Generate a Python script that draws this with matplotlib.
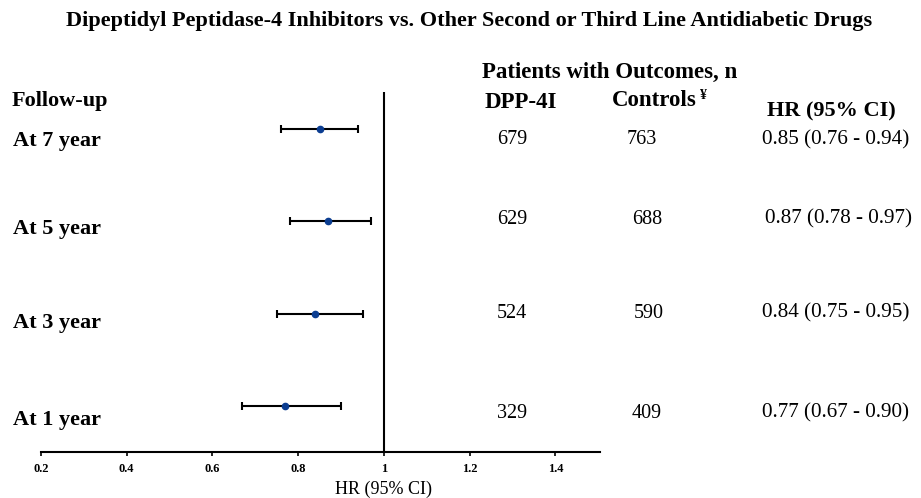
import matplotlib
matplotlib.use("Agg")
import matplotlib.pyplot as plt
import matplotlib.transforms as mtransforms

plt.rcParams['font.family'] = ['Liberation Serif', 'DejaVu Serif']

labels = ["At 1 year", "At 3 year", "At 5 year", "At 7 year"]
hr = [0.77, 0.84, 0.87, 0.85]
lo = [0.67, 0.75, 0.78, 0.76]
hi = [0.90, 0.95, 0.97, 0.94]
dpp = [329, 524, 629, 679]
ctrl = [409, 590, 688, 763]
hr_text = ["0.77 (0.67 - 0.90)", "0.84 (0.75 - 0.95)", "0.87 (0.78 - 0.97)", "0.85 (0.76 - 0.94)"]
xticks = [0.2, 0.4, 0.6, 0.8, 1, 1.2, 1.4]

W, H = 921, 498
fig = plt.figure(figsize=(W/100, H/100), dpi=100)

def fx(px):
    return px / W

def fy(py):
    return 1 - py / H

ax = fig.add_axes([fx(41), fy(452), fx(600) - fx(41), fy(92) - fy(452)])
ys = list(range(len(labels)))
err = [[h - l for h, l in zip(hr, lo)], [u - h for h, u in zip(hr, hi)]]
ax.errorbar(hr, ys, xerr=err, fmt='o', color='black', ecolor='black',
            elinewidth=1.5, capsize=3, capthick=1.5,
            markerfacecolor='#0b3d91', markeredgecolor='#0b3d91', markersize=4.5)
ax.axvline(1, color='black', lw=1.5)
ax.set_xlim(0.2, 1.504)
ax.set_ylim(-0.5, 3.4)
for s in ['top', 'right', 'left']:
    ax.spines[s].set_visible(False)
ax.spines['bottom'].set_linewidth(1.5)
ax.set_yticks([])
ax.set_xticks(xticks)
ax.set_xticklabels([f"{t:g}" for t in xticks], fontsize=9, fontweight='bold')
ax.tick_params(axis='x', length=3, width=1.2, direction='out', pad=5)
ax.text(1.0, fy(489), "HR (95% CI)",
        transform=mtransforms.blended_transform_factory(ax.transData, fig.transFigure),
        ha='center', va='center', fontsize=13)

fig.text(fx(469), fy(21), "Dipeptidyl Peptidase-4 Inhibitors vs. Other Second or Third Line Antidiabetic Drugs",
         ha='center', va='center', fontsize=16, fontweight='bold')
fig.text(fx(482), fy(72), "Patients with Outcomes, n", ha='left', va='center', fontsize=16.5, fontweight='bold')
fig.text(fx(12), fy(101), "Follow-up", ha='left', va='center', fontsize=16, fontweight='bold')
fig.text(fx(485), fy(103), "DPP-4I", ha='left', va='center', fontsize=16.5, fontweight='bold')
fig.text(fx(612), fy(101), "Controls", ha='left', va='center', fontsize=16.5, fontweight='bold')
fig.text(fx(700), fy(95), "¥", ha='left', va='center', fontsize=10, fontweight='bold')
fig.text(fx(767), fy(111), "HR (95% CI)", ha='left', va='center', fontsize=16, fontweight='bold')

label_py = [420, 323, 229, 141]
num_py = [413, 313, 219, 140]
dpp_px = [497, 497, 497, 497]
ctrl_px = [632, 634, 632, 627]
hr_px = [762, 762, 765, 762]
for i in range(len(labels)):
    fig.text(fx(13), fy(label_py[i]), labels[i], ha='left', va='center', fontsize=16, fontweight='bold')
    fig.text(fx(dpp_px[i]), fy(num_py[i]), str(dpp[i]), ha='left', va='center', fontsize=14.5)
    fig.text(fx(ctrl_px[i]), fy(num_py[i]), str(ctrl[i]), ha='left', va='center', fontsize=14.5)
    fig.text(fx(hr_px[i]), fy(num_py[i]), hr_text[i], ha='left', va='center', fontsize=15.2)

fig.savefig("out.png", dpi=100)
